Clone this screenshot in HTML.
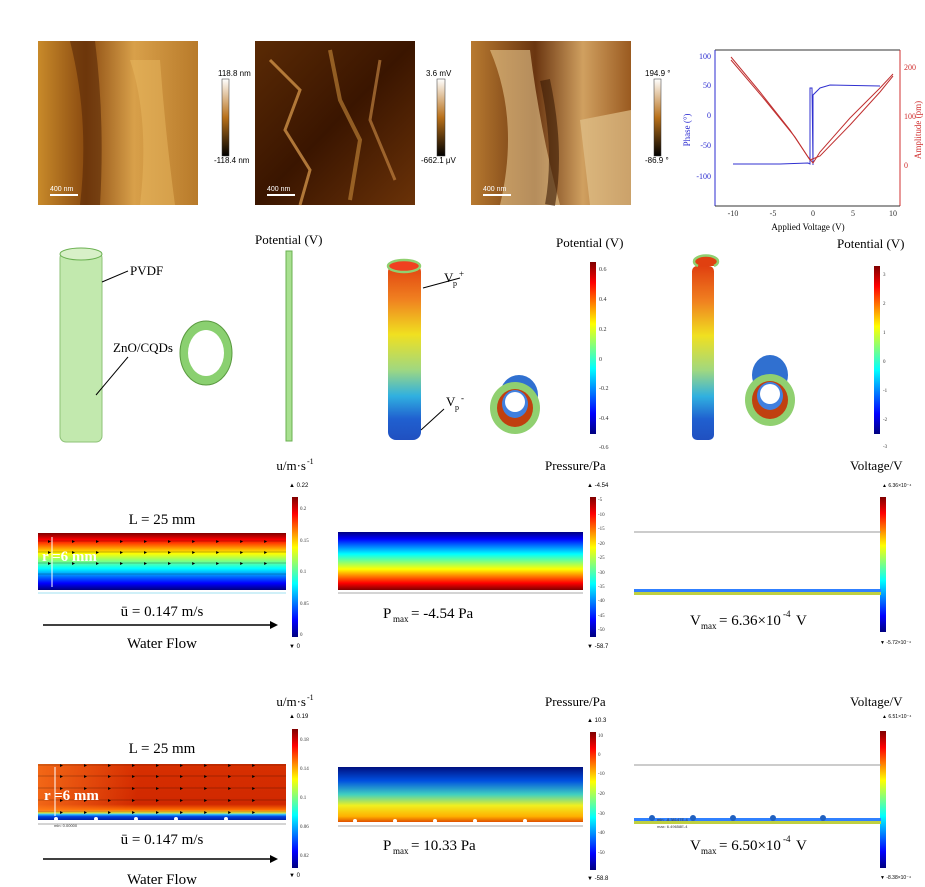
<!DOCTYPE html>
<html><head><meta charset="utf-8"><style>
html,body{margin:0;padding:0;background:#fff}
svg{display:block}
text{font-family:"Liberation Serif",serif}
.s{font-family:"Liberation Sans",sans-serif}
</style></head><body>
<svg width="925" height="887" viewBox="0 0 925 887" xmlns="http://www.w3.org/2000/svg">
<defs>
<linearGradient id="jetV" x1="0" y1="0" x2="0" y2="1">
<stop offset="0" stop-color="#7f0000"/><stop offset="0.12" stop-color="#ff0000"/><stop offset="0.36" stop-color="#ffff00"/><stop offset="0.62" stop-color="#00ffff"/><stop offset="0.88" stop-color="#0000ff"/><stop offset="1" stop-color="#00007f"/></linearGradient>
<linearGradient id="tube" x1="0" y1="0" x2="0" y2="1">
<stop offset="0" stop-color="#e04010"/><stop offset="0.2" stop-color="#f08020"/><stop offset="0.4" stop-color="#f0e020"/><stop offset="0.6" stop-color="#a0d880"/><stop offset="0.75" stop-color="#30b0e0"/><stop offset="0.88" stop-color="#2060d0"/><stop offset="1" stop-color="#2050c0"/></linearGradient>
<linearGradient id="jetU" x1="0" y1="1" x2="0" y2="0">
<stop offset="0" stop-color="#7f0000"/><stop offset="0.12" stop-color="#ff0000"/><stop offset="0.36" stop-color="#ffff00"/><stop offset="0.62" stop-color="#00ffff"/><stop offset="0.88" stop-color="#0000ff"/><stop offset="1" stop-color="#00007f"/></linearGradient>
<linearGradient id="jetP2" x1="0" y1="0" x2="0" y2="1">
<stop offset="0" stop-color="#00107f"/><stop offset="0.25" stop-color="#0050e0"/><stop offset="0.5" stop-color="#40d0c0"/><stop offset="0.7" stop-color="#f0f020"/><stop offset="0.9" stop-color="#ffb000"/><stop offset="1" stop-color="#e05000"/></linearGradient>
<linearGradient id="flow2" x1="0" y1="0" x2="0" y2="1">
<stop offset="0" stop-color="#d83000"/><stop offset="0.72" stop-color="#d02800"/><stop offset="0.82" stop-color="#ff7000"/><stop offset="0.87" stop-color="#f0f040"/><stop offset="0.9" stop-color="#30c0ff"/><stop offset="0.94" stop-color="#0040e0"/><stop offset="1" stop-color="#0020a0"/></linearGradient>
<linearGradient id="flow2h" x1="0" y1="0" x2="1" y2="0"><stop offset="0" stop-color="#ff8020" stop-opacity="0.7"/><stop offset="0.4" stop-color="#ff8020" stop-opacity="0"/></linearGradient>
<linearGradient id="br" x1="0" y1="0" x2="0" y2="1"><stop offset="0" stop-color="#fff"/><stop offset="0.5" stop-color="#b8701a"/><stop offset="1" stop-color="#000"/></linearGradient>
<linearGradient id="afm1" x1="0" y1="0" x2="1" y2="0"><stop offset="0" stop-color="#c88a2a"/><stop offset="0.3" stop-color="#8a4a10"/><stop offset="0.6" stop-color="#d8a04a"/><stop offset="1" stop-color="#b87a2a"/></linearGradient>
<linearGradient id="afm2" x1="0" y1="0" x2="1" y2="1"><stop offset="0" stop-color="#5a2a05"/><stop offset="0.5" stop-color="#3a1500"/><stop offset="1" stop-color="#6a3208"/></linearGradient>
<linearGradient id="afm3" x1="0" y1="0" x2="1" y2="0"><stop offset="0" stop-color="#b87a30"/><stop offset="0.4" stop-color="#6a3510"/><stop offset="0.7" stop-color="#d0a060"/><stop offset="1" stop-color="#9a5a20"/></linearGradient>
</defs>

<!-- Row 1 AFM -->
<rect x="38" y="41" width="160" height="164" fill="url(#afm1)"/>
<path d="M70 41 Q90 120 80 205 L100 205 Q105 120 95 41Z" fill="#5a2a08" opacity="0.6"/>
<path d="M130 60 Q150 120 140 205 L175 205 Q165 130 160 60Z" fill="#e8b860" opacity="0.5"/>
<line x1="50" y1="195" x2="78" y2="195" stroke="#fff" stroke-width="2"/><text x="50" y="191" class="s" font-size="7" fill="#fff">400 nm</text>
<rect x="222" y="79" width="7" height="77" fill="url(#br)" stroke="#333" stroke-width="0.5"/>
<text x="218" y="76" class="s" font-size="8">118.8 nm</text><text x="214" y="163" class="s" font-size="8">-118.4 nm</text>

<rect x="255" y="41" width="160" height="164" fill="url(#afm2)"/>
<path d="M270 60 L300 90 L285 130 L310 170 L300 205" stroke="#e0a050" stroke-width="3" fill="none" opacity="0.7"/>
<path d="M330 50 L340 100 L360 140 L350 200" stroke="#c88a3a" stroke-width="4" fill="none" opacity="0.6"/>
<path d="M380 60 L370 120 L395 180" stroke="#d09048" stroke-width="3" fill="none" opacity="0.6"/>
<line x1="267" y1="195" x2="295" y2="195" stroke="#fff" stroke-width="2"/><text x="267" y="191" class="s" font-size="7" fill="#fff">400 nm</text>
<rect x="437" y="79" width="8" height="77" fill="url(#br)" stroke="#333" stroke-width="0.5"/>
<text x="426" y="76" class="s" font-size="8">3.6 mV</text><text x="421" y="163" class="s" font-size="8">-662.1 μV</text>

<rect x="471" y="41" width="160" height="164" fill="url(#afm3)"/>
<path d="M490 50 Q520 120 500 205 L560 205 Q540 130 530 50Z" fill="#e8c890" opacity="0.6"/>
<path d="M580 120 L631 110 L631 205 L590 205Z" fill="#e0c08a" opacity="0.7"/>
<path d="M545 80 Q560 150 550 205" stroke="#3a1a05" stroke-width="10" fill="none" opacity="0.6"/>
<line x1="483" y1="195" x2="511" y2="195" stroke="#fff" stroke-width="2"/><text x="483" y="191" class="s" font-size="7" fill="#fff">400 nm</text>
<rect x="654" y="79" width="7" height="77" fill="url(#br)" stroke="#333" stroke-width="0.5"/>
<text x="645" y="76" class="s" font-size="8">194.9 °</text><text x="645" y="163" class="s" font-size="8">-86.9 °</text>

<!-- PFM chart -->
<line x1="715" y1="50" x2="900" y2="50" stroke="#333"/>
<line x1="715" y1="50" x2="715" y2="206" stroke="#2b2bd0"/>
<line x1="900" y1="50" x2="900" y2="206" stroke="#d03030"/>
<line x1="715" y1="206" x2="900" y2="206" stroke="#333"/>
<g font-size="8" fill="#2b2bd0" text-anchor="end">
<text x="711" y="59">100</text><text x="711" y="88">50</text><text x="711" y="118">0</text><text x="711" y="148">-50</text><text x="711" y="179">-100</text></g>
<g font-size="8" fill="#d03030"><text x="904" y="70">200</text><text x="904" y="119">100</text><text x="904" y="168">0</text></g>
<g font-size="8" fill="#333" text-anchor="middle"><text x="733" y="216">-10</text><text x="773" y="216">-5</text><text x="813" y="216">0</text><text x="853" y="216">5</text><text x="893" y="216">10</text></g>
<text x="808" y="230" font-size="9" text-anchor="middle">Applied Voltage (V)</text>
<text transform="translate(690 130) rotate(-90)" font-size="9" fill="#2b2bd0" text-anchor="middle">Phase (°)</text>
<text transform="translate(921 130) rotate(-90)" font-size="9" fill="#d03030" text-anchor="middle">Amplitude (pm)</text>
<polyline points="733,164 780,164 808,163 810,164 810,88 812,88 813,165 813,95 820,88 830,85 880,86" fill="none" stroke="#3030d0" stroke-width="1"/>
<polyline points="731,57 760,92 790,130 808,157 813,163 820,152 850,118 880,88 893,74" fill="none" stroke="#c03030" stroke-width="1"/>
<polyline points="731,60 765,100 795,137 810,160 820,156 850,125 880,92 893,76" fill="none" stroke="#c03030" stroke-width="1"/>

<!-- Row 2 -->
<rect x="60" y="252" width="42" height="190" rx="6" fill="#b8e6a0" stroke="#7ab860" opacity="0.85"/>
<ellipse cx="81" cy="254" rx="21" ry="6" fill="#d8f0c8" stroke="#6ab050"/>
<text x="130" y="275" font-size="13">PVDF</text><line x1="128" y1="271" x2="102" y2="282" stroke="#000"/>
<text x="113" y="352" font-size="13">ZnO/CQDs</text><line x1="128" y1="357" x2="96" y2="395" stroke="#000"/>
<ellipse cx="206" cy="353" rx="26" ry="32" fill="#8ad070" stroke="#5a9a40"/>
<ellipse cx="206" cy="353" rx="18" ry="23" fill="#fff"/>
<rect x="286" y="251" width="6" height="190" fill="#a8e090" stroke="#6ab050"/>
<text x="255" y="244" font-size="13">Potential (V)</text>

<rect x="388" y="264" width="33" height="176" rx="8" fill="url(#tube)"/>
<ellipse cx="404" cy="266" rx="16" ry="6" fill="#f04020" stroke="#90d070" stroke-width="2.5"/>
<text x="444" y="282" font-size="13">V</text><text x="453" y="286" font-size="8">p</text><text x="459" y="277" font-size="9">+</text>
<line x1="460" y1="278" x2="423" y2="288" stroke="#000"/>
<text x="446" y="406" font-size="13">V</text><text x="455" y="410" font-size="8">p</text><text x="461" y="401" font-size="9">-</text>
<line x1="444" y1="409" x2="421" y2="430" stroke="#000"/>
<ellipse cx="519" cy="395" rx="19" ry="20" fill="#3070d0"/>
<ellipse cx="515" cy="408" rx="25" ry="26" fill="#90d070"/>
<ellipse cx="515" cy="408" rx="18" ry="19" fill="#c04010"/>
<ellipse cx="515" cy="404" rx="13" ry="14" fill="#4080e0"/>
<ellipse cx="515" cy="402" rx="10" ry="10" fill="#fff"/>
<rect x="590" y="262" width="6" height="172" fill="url(#jetV)"/>
<text x="556" y="247" font-size="13">Potential (V)</text>
<g class="s" font-size="6" fill="#333"><text x="599" y="271">0.6</text><text x="599" y="301">0.4</text><text x="599" y="331">0.2</text><text x="599" y="361">0</text><text x="599" y="390">-0.2</text><text x="599" y="420">-0.4</text><text x="599" y="449">-0.6</text></g>

<rect x="692" y="266" width="22" height="174" rx="5" fill="url(#tube)"/>
<path d="M698 266 a12 6 0 1 1 16 0" fill="#e04010" stroke="#90d070" stroke-width="2.5"/>
<ellipse cx="770" cy="375" rx="18" ry="20" fill="#3070d0"/>
<ellipse cx="770" cy="400" rx="25" ry="26" fill="#90d070"/>
<ellipse cx="770" cy="400" rx="18" ry="19" fill="#c04010"/>
<ellipse cx="770" cy="396" rx="13" ry="14" fill="#4080e0"/>
<ellipse cx="770" cy="394" rx="10" ry="10" fill="#fff"/>
<rect x="874" y="266" width="6" height="168" fill="url(#jetV)"/>
<text x="837" y="248" font-size="13">Potential (V)</text>
<g class="s" font-size="5" fill="#333"><text x="883" y="276">3</text><text x="883" y="305">2</text><text x="883" y="334">1</text><text x="883" y="363">0</text><text x="883" y="392">-1</text><text x="883" y="421">-2</text><text x="883" y="448">-3</text></g>

<!-- Row 3 -->
<text x="306" y="470" font-size="13" text-anchor="end">u/m·s</text><text x="307" y="464" font-size="8">-1</text>
<text x="289" y="487" class="s" font-size="6">▲ 0.22</text>
<rect x="292" y="497" width="6" height="140" fill="url(#jetV)"/>
<g class="s" font-size="5" fill="#333"><text x="300" y="510">0.2</text><text x="300" y="542">0.15</text><text x="300" y="573">0.1</text><text x="300" y="605">0.05</text><text x="300" y="636">0</text></g>
<text x="289" y="648" class="s" font-size="6">▼ 0</text>
<text x="162" y="524" font-size="15" text-anchor="middle">L = 25 mm</text>
<rect x="38" y="533" width="248" height="57" fill="url(#jetV)"/>
<g stroke="#000" stroke-width="0.4" opacity="0.6"><line x1="38" y1="541" x2="286" y2="541"/><line x1="38" y1="552" x2="286" y2="552"/><line x1="38" y1="563" x2="286" y2="563"/><line x1="38" y1="574" x2="286" y2="574"/></g>
<g fill="#000" font-size="6">
<text x="48" y="543" letter-spacing="21">▸▸▸▸▸▸▸▸▸▸</text>
<text x="48" y="554" letter-spacing="21">▸▸▸▸▸▸▸▸▸▸</text>
<text x="48" y="565" letter-spacing="21">▸▸▸▸▸▸▸▸▸▸</text></g>
<line x1="38" y1="593" x2="286" y2="593" stroke="#a0e0f0"/>
<line x1="52" y1="537" x2="52" y2="587" stroke="#fff"/>
<text x="42" y="561" font-size="15" font-weight="bold" fill="#fff">r =6 mm</text>
<text x="162" y="616" font-size="15" text-anchor="middle">ū = 0.147 m/s</text>
<line x1="43" y1="625" x2="272" y2="625" stroke="#000" stroke-width="1.5"/><polygon points="278,625 270,621 270,629" fill="#000"/>
<text x="162" y="648" font-size="15" text-anchor="middle">Water Flow</text>

<text x="545" y="470" font-size="13">Pressure/Pa</text>
<text x="587" y="487" class="s" font-size="6">▲ -4.54</text>
<rect x="590" y="497" width="6" height="140" fill="url(#jetV)"/>
<g class="s" font-size="5" fill="#333"><text x="598" y="501">-5</text><text x="598" y="516">-10</text><text x="598" y="530">-15</text><text x="598" y="545">-20</text><text x="598" y="559">-25</text><text x="598" y="574">-30</text><text x="598" y="588">-35</text><text x="598" y="602">-40</text><text x="598" y="617">-45</text><text x="598" y="631">-50</text></g>
<text x="587" y="648" class="s" font-size="6">▼ -58.7</text>
<rect x="338" y="532" width="245" height="58" fill="url(#jetU)"/>
<line x1="338" y1="593" x2="583" y2="593" stroke="#aaa"/>
<text x="383" y="618" font-size="15">P</text><text x="393" y="622" font-size="9">max</text><text x="411" y="618" font-size="15">= -4.54 Pa</text>

<text x="850" y="470" font-size="13">Voltage/V</text>
<text x="882" y="487" class="s" font-size="5">▲ 6.36×10⁻⁴</text>
<rect x="880" y="497" width="6" height="135" fill="url(#jetV)"/>
<text x="880" y="644" class="s" font-size="5">▼ -5.72×10⁻⁴</text>
<line x1="634" y1="532" x2="881" y2="532" stroke="#999"/>
<rect x="634" y="589" width="247" height="3" fill="#3080ff"/><rect x="634" y="592" width="247" height="3" fill="#c0d040"/>
<text x="690" y="625" font-size="15">V</text><text x="701" y="629" font-size="9">max</text><text x="719" y="625" font-size="15">= 6.36×10</text><text x="783" y="617" font-size="9">-4</text><text x="796" y="625" font-size="15">V</text>

<!-- Row 4 -->
<text x="306" y="706" font-size="13" text-anchor="end">u/m·s</text><text x="307" y="700" font-size="8">-1</text>
<text x="289" y="718" class="s" font-size="6">▲ 0.19</text>
<rect x="292" y="729" width="6" height="139" fill="url(#jetV)"/>
<g class="s" font-size="5" fill="#333"><text x="300" y="741">0.18</text><text x="300" y="770">0.14</text><text x="300" y="799">0.1</text><text x="300" y="828">0.06</text><text x="300" y="857">0.02</text></g>
<text x="289" y="877" class="s" font-size="6">▼ 0</text>
<text x="162" y="753" font-size="15" text-anchor="middle">L = 25 mm</text>
<rect x="38" y="764" width="248" height="56" fill="url(#flow2)"/>
<rect x="38" y="764" width="248" height="48" fill="url(#flow2h)"/>
<g stroke="#000" stroke-width="0.4" opacity="0.6"><line x1="38" y1="765" x2="286" y2="765"/><line x1="38" y1="776" x2="286" y2="776"/><line x1="38" y1="788" x2="286" y2="788"/><line x1="38" y1="800" x2="286" y2="800"/><line x1="38" y1="812" x2="286" y2="812"/></g>
<g fill="#000" font-size="6">
<text x="60" y="767" letter-spacing="21">▸▸▸▸▸▸▸▸▸</text>
<text x="60" y="778" letter-spacing="21">▸▸▸▸▸▸▸▸▸</text>
<text x="60" y="790" letter-spacing="21">▸▸▸▸▸▸▸▸▸</text>
<text x="60" y="802" letter-spacing="21">▸▸▸▸▸▸▸▸▸</text>
<text x="60" y="814" letter-spacing="21">▸▸▸▸▸▸▸▸▸</text></g>
<g fill="#fff"><circle cx="56" cy="819" r="2"/><circle cx="96" cy="819" r="2"/><circle cx="136" cy="819" r="2"/><circle cx="176" cy="819" r="2"/><circle cx="226" cy="819" r="2"/></g>
<text x="54" y="827" class="s" font-size="4" fill="#333">min: 0.00000</text>
<line x1="38" y1="824" x2="286" y2="824" stroke="#aaa"/>
<line x1="55" y1="767" x2="55" y2="816" stroke="#fff"/>
<text x="44" y="800" font-size="15" font-weight="bold" fill="#fff">r =6 mm</text>
<text x="162" y="844" font-size="15" text-anchor="middle">ū = 0.147 m/s</text>
<line x1="43" y1="859" x2="272" y2="859" stroke="#000" stroke-width="1.5"/><polygon points="278,859 270,855 270,863" fill="#000"/>
<text x="162" y="884" font-size="15" text-anchor="middle">Water Flow</text>

<text x="545" y="706" font-size="13">Pressure/Pa</text>
<text x="587" y="722" class="s" font-size="6">▲ 10.3</text>
<rect x="590" y="732" width="6" height="138" fill="url(#jetV)"/>
<g class="s" font-size="5" fill="#333"><text x="598" y="737">10</text><text x="598" y="756">0</text><text x="598" y="775">-10</text><text x="598" y="795">-20</text><text x="598" y="815">-30</text><text x="598" y="834">-40</text><text x="598" y="854">-50</text></g>
<text x="587" y="880" class="s" font-size="6">▼ -58.8</text>
<rect x="338" y="767" width="245" height="55" fill="url(#jetP2)"/>
<g fill="#fff"><circle cx="355" cy="821" r="2"/><circle cx="395" cy="821" r="2"/><circle cx="435" cy="821" r="2"/><circle cx="475" cy="821" r="2"/><circle cx="525" cy="821" r="2"/></g>
<line x1="338" y1="826" x2="583" y2="826" stroke="#aaa"/>
<text x="383" y="850" font-size="15">P</text><text x="393" y="854" font-size="9">max</text><text x="411" y="850" font-size="15">= 10.33 Pa</text>

<text x="850" y="706" font-size="13">Voltage/V</text>
<text x="882" y="718" class="s" font-size="5">▲ 6.51×10⁻⁴</text>
<rect x="880" y="731" width="6" height="137" fill="url(#jetV)"/>
<text x="880" y="879" class="s" font-size="5">▼ -8.38×10⁻⁴</text>
<line x1="634" y1="765" x2="881" y2="765" stroke="#999"/>
<rect x="634" y="818" width="247" height="3" fill="#3080ff"/><rect x="634" y="821" width="247" height="3" fill="#c0d040"/>
<g fill="#2060c0"><circle cx="652" cy="818" r="3"/><circle cx="693" cy="818" r="3"/><circle cx="733" cy="818" r="3"/><circle cx="773" cy="818" r="3"/><circle cx="823" cy="818" r="3"/></g>
<text x="657" y="821" class="s" font-size="4" fill="#333">min: -8.38147E-4</text>
<text x="657" y="828" class="s" font-size="4" fill="#333">max: 6.49658E-4</text>
<text x="690" y="850" font-size="15">V</text><text x="701" y="854" font-size="9">max</text><text x="719" y="850" font-size="15">= 6.50×10</text><text x="783" y="842" font-size="9">-4</text><text x="796" y="850" font-size="15">V</text>
</svg>
</body></html>
